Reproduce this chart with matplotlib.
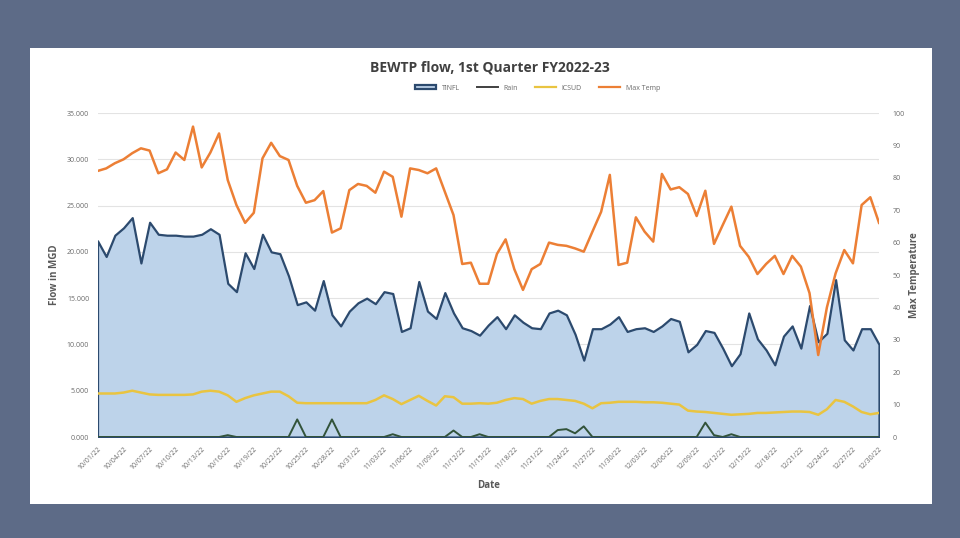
import numpy as np
import pandas as pd
import matplotlib; matplotlib.use('Agg')
import matplotlib.pyplot as plt
import matplotlib.dates as mdates
from matplotlib.patches import Patch, Rectangle
from matplotlib.lines import Line2D

# daily values, 10/01/22 .. 12/30/22
dates = pd.date_range('2022-10-01', periods=91, freq='D')

tinfl = [21.2, 19.5, 21.8, 22.6, 23.7, 18.8, 23.2, 21.9, 21.8, 21.8,
         21.7, 21.7, 21.9, 22.5, 21.9, 16.6, 15.7, 19.9, 18.2, 21.9,
         20.0, 19.8, 17.4, 14.3, 14.6, 13.7, 16.9, 13.2, 12.0, 13.6,
         14.5, 15.0, 14.4, 15.7, 15.5, 11.4, 11.8, 16.8, 13.6, 12.8,
         15.6, 13.4, 11.8, 11.5, 11.0, 12.1, 13.0, 11.7, 13.2, 12.4,
         11.8, 11.7, 13.4, 13.7, 13.2, 11.1, 8.3, 11.7, 11.7, 12.2,
         13.0, 11.4, 11.7, 11.8, 11.4, 12.0, 12.8, 12.5, 9.2, 10.0,
         11.5, 11.3, 9.6, 7.7, 9.0, 13.4, 10.6, 9.4, 7.8, 10.9,
         12.0, 9.6, 14.2, 10.3, 11.2, 17.0, 10.5, 9.4, 11.7, 11.7,
         10.0]

rain = [0, 0, 0, 0, 0, 0, 0, 0, 0, 0,
        0, 0, 0, 0, 0, 0.2, 0, 0, 0, 0,
        0, 0, 0, 1.9, 0, 0, 0, 1.9, 0, 0,
        0, 0, 0, 0, 0.3, 0, 0, 0, 0, 0,
        0, 0.7, 0, 0, 0.3, 0, 0, 0, 0, 0,
        0, 0, 0, 0.75, 0.85, 0.4, 1.15, 0, 0, 0,
        0, 0, 0, 0, 0, 0, 0, 0, 0, 0,
        1.55, 0.2, 0, 0.3, 0, 0, 0, 0, 0, 0,
        0, 0, 0, 0, 0, 0, 0, 0, 0, 0,
        0]

icsud = [4.7, 4.7, 4.7, 4.8, 5.0, 4.8, 4.6, 4.55, 4.55, 4.55,
         4.55, 4.6, 4.9, 5.0, 4.9, 4.5, 3.8, 4.2, 4.5, 4.7,
         4.9, 4.9, 4.4, 3.7, 3.65, 3.65, 3.65, 3.65, 3.65, 3.65,
         3.65, 3.65, 4.0, 4.5, 4.1, 3.55, 4.0, 4.45, 3.9, 3.4,
         4.4, 4.3, 3.6, 3.6, 3.65, 3.6, 3.7, 4.0, 4.2, 4.1,
         3.6, 3.9, 4.1, 4.1, 4.0, 3.9, 3.6, 3.1, 3.65, 3.7,
         3.8, 3.8, 3.8, 3.75, 3.75, 3.7, 3.6, 3.5, 2.85, 2.75,
         2.7, 2.6, 2.5, 2.4, 2.45, 2.5, 2.6, 2.6, 2.65, 2.7,
         2.75, 2.75, 2.7, 2.4, 3.0, 4.0, 3.8, 3.3, 2.7, 2.45,
         2.6]

max_temp = [82.1, 82.9, 84.5, 85.7, 87.6, 89.1, 88.4, 81.4, 82.6, 87.8,
            85.5, 95.8, 83.2, 87.8, 93.7, 79.3, 71.6, 66.1, 69.2, 86.0,
            90.8, 86.7, 85.5, 77.5, 72.3, 73.1, 75.9, 63.1, 64.4, 76.2,
            78.1, 77.5, 75.4, 81.9, 80.3, 68.0, 82.9, 82.4, 81.4, 82.9,
            75.7, 68.5, 53.4, 53.8, 47.3, 47.3, 56.5, 61.0, 51.8, 45.4,
            51.8, 53.4, 60.0, 59.3, 59.0, 58.2, 57.2, 63.4, 69.5, 80.9,
            53.1, 53.8, 67.8, 63.4, 60.3, 81.2, 76.4, 77.1, 75.0, 68.2,
            76.0, 59.6, 65.4, 71.1, 59.0, 55.6, 50.3, 53.4, 55.9, 50.3,
            55.9, 52.6, 44.4, 25.3, 40.0, 50.5, 57.7, 53.6, 71.6, 74.0,
            66.1]

C_FILL = '#bdd3ea'
C_EDGE = '#2c4a6e'
C_RAIN = '#32533a'
C_YEL = '#e9c441'
C_ORG = '#ec7f35'
C_TXT = '#6a6a6a'

plt.rcParams['font.family'] = ['Open Sans', 'DejaVu Sans']

fig = plt.figure(figsize=(9.6, 5.38), dpi=100)
fig.patch.set_facecolor('#5d6b87')
fig.patches.append(Rectangle((30/960, 1-504/538), 902/960, 456/538,
                             transform=fig.transFigure, facecolor='white',
                             edgecolor='none', zorder=-10))

ax = fig.add_axes([97.5/960, 1-437/538, (879-97.5)/960, 324/538])
ax.set_facecolor('none')
for s in ax.spines.values():
    s.set_visible(False)

ax.fill_between(dates, 0, tinfl, facecolor=C_FILL, edgecolor=C_EDGE, lw=1.6, zorder=2)
ax.plot(dates, icsud, color=C_YEL, lw=1.8, zorder=3)
ax.plot(dates, rain, color=C_RAIN, lw=1.4, zorder=4)

ax.set_ylim(0, 35)
ax.set_yticks(np.arange(0, 36, 5))
ax.set_yticklabels([f"{v:.3f}" for v in np.arange(0, 36, 5)])
ax.yaxis.grid(True, color='#e3e3e3', lw=0.8)
ax.set_axisbelow(True)
ax.set_xlim(dates[0], dates[-1])
ax.set_xticks(dates[::3])
ax.xaxis.set_major_formatter(mdates.DateFormatter('%m/%d/%y'))
ax.tick_params(axis='both', length=0, labelsize=5, colors=C_TXT, pad=6)
plt.setp(ax.get_xticklabels(), rotation=45, ha='right', rotation_mode='anchor')
ax.set_ylabel('Flow in MGD', fontsize=7, color='#595959', fontweight='bold', labelpad=5)
ax.set_xlabel('Date', fontsize=7, color='#595959', fontweight='bold', labelpad=6)

ax2 = ax.twinx()
for s in ax2.spines.values():
    s.set_visible(False)
ax2.plot(dates, max_temp, color=C_ORG, lw=1.8, zorder=5)
ax2.set_ylim(0, 100)
ax2.set_yticks(np.arange(0, 101, 10))
ax2.tick_params(axis='y', length=0, labelsize=5, colors=C_TXT, pad=10)
ax2.set_ylabel('Max Temperature', fontsize=7, color='#595959', fontweight='bold', labelpad=3)

fig.text(0.51, 1-68/538, 'BEWTP flow, 1st Quarter FY2022-23', ha='center', va='center',
         fontsize=10, fontweight='bold', color='#404040')

handles = [Patch(facecolor=C_FILL, edgecolor=C_EDGE, lw=1.6),
           Line2D([], [], color='#404040', lw=1.4),
           Line2D([], [], color=C_YEL, lw=1.6),
           Line2D([], [], color=C_ORG, lw=1.6)]
fig.legend(handles, ['TINFL', 'Rain', 'ICSUD', 'Max Temp'], loc='center',
           bbox_to_anchor=(0.56, 1-88/538), ncol=4, frameon=False, fontsize=5,
           labelcolor=C_TXT, handlelength=3, handleheight=0.6, columnspacing=2.5)

fig.savefig('out.png', dpi=100, facecolor=fig.get_facecolor())
